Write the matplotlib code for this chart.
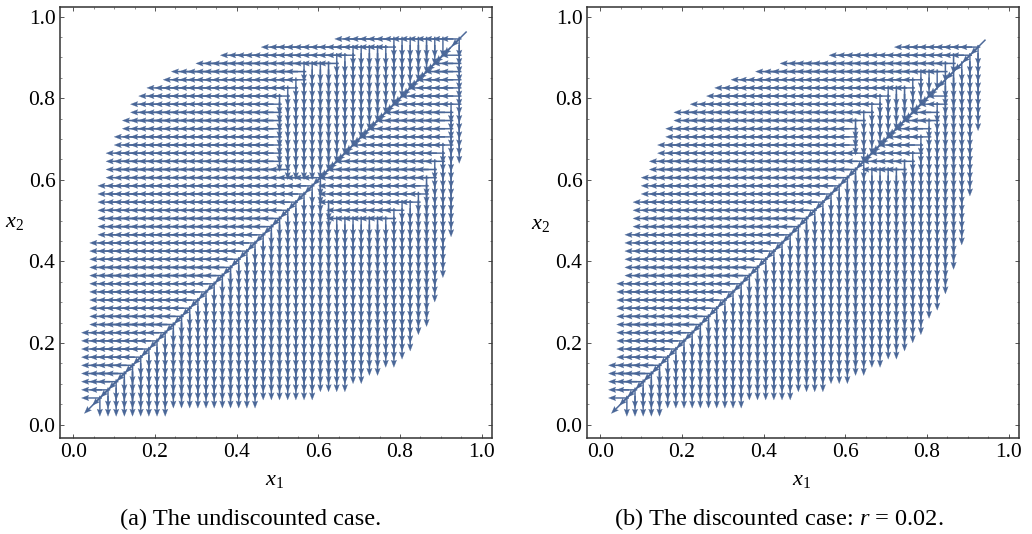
import numpy as np
import matplotlib
matplotlib.use("Agg")
import matplotlib.pyplot as plt

plt.rcParams['font.family'] = 'Liberation Serif'
plt.rcParams['mathtext.fontset'] = 'custom'
plt.rcParams['mathtext.rm'] = 'Liberation Serif'
plt.rcParams['mathtext.it'] = 'Liberation Serif:italic'

# -------- grid of the field ----------
cols = [0.045, 0.065, 0.085, 0.105, 0.125, 0.145, 0.165, 0.185, 0.205, 0.225, 0.245, 0.265,
        0.285, 0.305, 0.325, 0.345, 0.365, 0.385, 0.405, 0.425, 0.445, 0.465, 0.485, 0.505,
        0.525, 0.545, 0.565, 0.585, 0.605, 0.625, 0.645, 0.665, 0.685, 0.705, 0.725, 0.745,
        0.765, 0.785, 0.805, 0.825, 0.845, 0.865, 0.885, 0.905, 0.925, 0.945]
rows = cols[::-1]
nan = float('nan')

# -------- (a) undiscounted ----------
# first and last left arrow of each row, above the diagonal
a_left_start = [0.665, 0.485, 0.385, 0.325, 0.265, 0.245, 0.205, 0.185, 0.165, 0.165, 0.145, 0.145,
                0.125, 0.125, 0.105, 0.105, 0.105, 0.105] + [0.085] * 7 + [0.065] * 11 + [0.045] * 9 + [nan]
a_left_end = [0.925, 0.765, 0.665, 0.625, 0.545, 0.545, 0.525, 0.505, 0.485, 0.485, 0.485, 0.485,
              0.485, 0.485, 0.485, 0.485, 0.505, 0.585, 0.565, 0.545, 0.525, 0.505, 0.485, 0.465,
              0.445, 0.425, 0.405, 0.385, 0.365, 0.345, 0.325, 0.305, 0.285, 0.265, 0.245, 0.225,
              0.205, 0.185, 0.165, 0.145, 0.125, 0.105, 0.085, 0.065, 0.045, nan]
# left arrows below the diagonal
a_low_rows = [0.905, 0.885, 0.865, 0.845, 0.825, 0.805, 0.785, 0.765, 0.745, 0.725, 0.705, 0.685,
              0.665, 0.645, 0.625, 0.605, 0.585, 0.565, 0.545, 0.525, 0.505]
a_low_start = [0.925, 0.905, 0.885, 0.865, 0.845, 0.825, 0.805, 0.785, 0.765, 0.745, 0.725, 0.705,
               0.685, 0.665, 0.645, 0.625, 0.625, 0.625, 0.625, 0.645, 0.645]
a_low_end = [0.925] * 7 + [0.905] * 5 + [0.885] * 2 + [0.865] * 2 + [0.845] * 2 + [0.825, 0.785, 0.765]
# lowest down arrow of each column
a_col_bottom = [nan] + [0.045] * 9 + [0.065] * 11 + [0.085] * 7 + [0.105] * 4 + [0.125] * 2 + [0.145] * 2 \
    + [0.165] * 2 + [0.185, 0.205, 0.245, 0.265, 0.325, 0.385, 0.485, 0.665]

# -------- (b) discounted, r = 0.02 ----------
b_left_start = [nan, 0.745, 0.585, 0.465, 0.405, 0.345, 0.305, 0.285, 0.245, 0.205, 0.205, 0.185, 0.185,
                0.165, 0.165, 0.145, 0.145, 0.125, 0.125, 0.125, 0.105, 0.105, 0.105, 0.105] \
    + [0.085] * 6 + [0.065] * 10 + [0.045] * 5 + [nan]
b_left_end = [nan, 0.905, 0.885, 0.845, 0.825, 0.765, 0.745, 0.685, 0.665, 0.645, 0.625, 0.605, 0.605,
              0.605, 0.625, 0.625, 0.605, 0.585, 0.565, 0.545, 0.525, 0.505, 0.485, 0.465, 0.445,
              0.425, 0.405, 0.385, 0.365, 0.345, 0.325, 0.305, 0.285, 0.265, 0.245, 0.225, 0.205,
              0.185, 0.165, 0.145, 0.125, 0.105, 0.085, 0.065, 0.045, nan]
b_low_rows = [0.805, 0.785, 0.765, 0.745, 0.725, 0.705, 0.685, 0.665, 0.645, 0.625]
b_low_start = [0.825, 0.805, 0.785, 0.765, 0.745, 0.725, 0.705, 0.685, 0.665, 0.665]
b_low_end = [0.825, 0.825, 0.805, 0.805, 0.785, 0.785, 0.765, 0.765, 0.745, 0.725]
b_col_bottom = [nan] + [0.045] * 5 + [0.065] * 10 + [0.085] * 6 + [0.105] * 4 + [0.125] * 3 + [0.145] * 2 \
    + [0.165] * 2 + [0.185] * 2 + [0.205, 0.225, 0.245, 0.285, 0.305, 0.345, 0.405, 0.465, 0.585, 0.745, nan]

arrow_len = 0.05
diag_len = 0.036
color = '#4A6798'
W, H = 1032, 534


def draw_field(ax, left_start, left_end, low_rows, low_start, low_end, col_bottom):
    X, Y, U, V = [], [], [], []
    for i, y in enumerate(rows):
        if left_start[i] != left_start[i] and y not in (0.045,):
            continue
        for j, x in enumerate(cols):
            low = low_rows.index(y) if y in low_rows else None
            if x == y:
                u, v = -diag_len, -diag_len
            elif left_start[i] <= x <= left_end[i]:
                u, v = -arrow_len, 0
            elif low is not None and low_start[low] <= x <= low_end[low]:
                u, v = -arrow_len, 0
            elif x > left_start[i] or left_start[i] != left_start[i]:
                if col_bottom[j] <= y:
                    u, v = 0, -arrow_len
                else:
                    continue
            else:
                continue
            X.append(x)
            Y.append(y)
            U.append(u)
            V.append(v)
    ax.quiver(X, Y, U, V, angles='xy', scale_units='xy', scale=1, pivot='mid', units='xy',
              width=0.0031, headwidth=4.4, headlength=5.8, headaxislength=5.0, color=color,
              edgecolor=color, linewidth=0.15)


def make_axes(left, right, zero_x):
    ax = fig.add_axes([left / W, 1 - 438.3 / H, (right - left) / W, (438.3 - 7.3) / H])
    ax.set_xlim((left - zero_x) / 408.4, (right - zero_x) / 408.4)
    ax.set_ylim((424.5 - 438.3) / 408, (424.5 - 7.3) / 408)
    ticks = [0.0, 0.2, 0.4, 0.6, 0.8, 1.0]
    ax.set_xticks(ticks)
    ax.set_yticks(ticks)
    ax.set_xticks(np.arange(0, 1.01, 0.05), minor=True)
    ax.set_yticks(np.arange(0, 1.01, 0.05), minor=True)
    ax.set_xticklabels(['%.1f' % t for t in ticks])
    ax.set_yticklabels(['%.1f' % t for t in ticks])
    ax.tick_params(which='major', direction='in', top=True, right=True, length=2.6, width=0.7,
                   color='#555555', labelsize=15.5, pad=3.5)
    ax.tick_params(which='minor', direction='in', top=True, right=True, length=1.5, width=0.6, color='#777777')
    for s in ax.spines.values():
        s.set_linewidth(1.1)
        s.set_color('#333333')
    return ax


fig = plt.figure(figsize=(W / 100, H / 100), dpi=100)

ax1 = make_axes(60.3, 491.7, 73.3)
draw_field(ax1, a_left_start, a_left_end, a_low_rows, a_low_start, a_low_end, a_col_bottom)

ax2 = make_axes(587.3, 1019, 600.3)
draw_field(ax2, b_left_start, b_left_end, b_low_rows, b_low_start, b_low_end, b_col_bottom)

fig.text(275 / W, 1 - 481 / H, r'$x_1$', fontsize=16, ha='center', va='center')
fig.text(802 / W, 1 - 481 / H, r'$x_1$', fontsize=16, ha='center', va='center')
fig.text(15 / W, 1 - 222 / H, r'$x_2$', fontsize=16, ha='center', va='center')
fig.text(541 / W, 1 - 224 / H, r'$x_2$', fontsize=16, ha='center', va='center')
fig.text(251 / W, 1 - 519 / H, '(a) The undiscounted case.', fontsize=17.6, ha='center', va='center')
fig.text(779 / W, 1 - 519 / H, r'(b) The discounted case: $r$ = 0.02.', fontsize=17.6, ha='center', va='center')

plt.savefig('out.png', dpi=100)
